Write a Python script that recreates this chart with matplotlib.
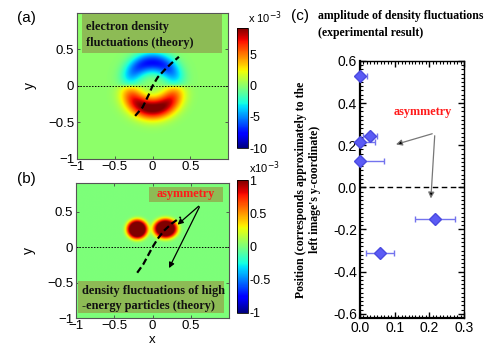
import numpy as np
import matplotlib
matplotlib.use("Agg")
import matplotlib.pyplot as plt
from matplotlib.patches import Rectangle

SANS = "Liberation Sans"
SERIF = "Liberation Serif"

# (a) electron density fluctuation ring (units of 1e-3)
ring_radius = 0.31
ring_width = [0.14, 0.15]          # upper (negative) half, lower (positive) half
ring_amp = [-7.5, 10.0]
cbar_a_lim = [-10, 9.2]
cbar_a_ticks = [-10, -5, 0, 5]

# (b) fast-particle density blobs (units of 1e-3)
blob_x = [-0.2, 0.17]
blob_y = [0.24, 0.25]
blob_wx = [0.14, 0.16]
blob_wy = [0.14, 0.14]
blob_amp = [1.3, 1.3]
cbar_b_lim = [-1, 1]
cbar_b_ticks = [-1, -0.5, 0, 0.5, 1]
cbar_b_labels = ["-1", "-0.5", "0", "0.5", "1"]

# dashed trajectories
path_a_x = [-0.23, -0.13, -0.05, 0.0, 0.07, 0.16, 0.25, 0.35]
path_a_y = [-0.41, -0.29, -0.12, 0.0, 0.12, 0.22, 0.31, 0.40]
path_b_x = [-0.2, -0.12, -0.05, 0.0, 0.07, 0.15, 0.25, 0.37]
path_b_y = [-0.36, -0.24, -0.1, 0.0, 0.12, 0.23, 0.33, 0.42]

# (c) measured amplitude vs position
amp_vals = [0.0, 0.029, 0.0, 0.0, 0.216, 0.057]
amp_err = [0.02, 0.019, 0.044, 0.068, 0.057, 0.04]
pos_vals = [0.53, 0.243, 0.213, 0.125, -0.149, -0.313]
c_xticks = [0.0, 0.1, 0.2, 0.3]
c_yticks = [-0.6, -0.4, -0.2, 0.0, 0.2, 0.4, 0.6]

map_ticks = [-1, -0.5, 0, 0.5]
map_ticklabels = ["\u22121", "\u22120.5", "0", "0.5"]

fig = plt.figure(figsize=(5.0, 3.46), dpi=100)

grid = np.linspace(-1, 1, 401)
X, Y = np.meshgrid(grid, grid)
R = np.hypot(X, Y)
S = Y / np.maximum(R, 1e-9)

# crescent halves: radial gaussian times a broad poloidal envelope
envelope = np.abs(S) ** 0.6
upper = ring_amp[0] * np.exp(-((R - ring_radius) / ring_width[0]) ** 2) * envelope
lower = ring_amp[1] * np.exp(-((R - ring_radius) / ring_width[1]) ** 2) * envelope
field_a = np.where(S > 0, upper, lower)

field_b = np.zeros_like(X)
for bx, by, wx, wy, a in zip(blob_x, blob_y, blob_wx, blob_wy, blob_amp):
    d = np.sqrt(((X - bx) / wx) ** 2 + ((Y - by) / wy) ** 2)
    field_b += a * np.exp(-d ** 4)
field_b = np.clip(field_b, *cbar_b_lim)


def style_map(ax, ylim_top):
    ax.set_xlim(-1, 1)
    ax.set_ylim(-1, ylim_top)
    ax.set_xticks(map_ticks)
    ax.set_xticklabels(map_ticklabels, fontsize=9.5, family=SANS)
    ax.set_yticks(map_ticks)
    ax.set_yticklabels(map_ticklabels, fontsize=9.5, family=SANS)
    ax.tick_params(direction="in", length=2.5, width=0.6, color="#444444",
                   top=True, right=True)
    ax.tick_params(axis="x", pad=1.5)
    ax.tick_params(axis="y", pad=2)
    for sp in ax.spines.values():
        sp.set_color("#555555")
        sp.set_linewidth(0.8)
    ax.axhline(0, color="black", lw=0.7, ls=(0, (1.5, 1.5)))
    ax.set_ylabel("y", fontsize=10, family=SANS, labelpad=8)


def add_cbar(cax, im, ticks, labels):
    cb = fig.colorbar(im, cax=cax, ticks=ticks)
    cb.ax.set_yticklabels(labels, fontsize=9, family=SANS)
    cb.ax.tick_params(length=0, pad=1)
    cb.outline.set_linewidth(0.6)
    return cb


BOX_FS = 8.8

# (a)
ax_a = fig.add_axes([0.154, 0.5405, 0.302, 0.422])
im_a = ax_a.imshow(field_a, extent=[-1, 1, -1, 1], origin="lower", cmap="jet",
                   vmin=cbar_a_lim[0], vmax=cbar_a_lim[1], aspect="auto",
                   interpolation="bilinear")
style_map(ax_a, 1.0)
ax_a.plot(path_a_x, path_a_y, color="black", lw=1.6, ls=(0, (3, 1.5)))
ax_a.add_patch(Rectangle((-0.93, 0.455), 1.85, 0.525, facecolor="#8dbb55",
                         edgecolor="none", zorder=3))
ax_a.text(-0.88, 0.81, "electron density", fontsize=BOX_FS, family=SERIF,
          weight="bold", color="#111111", va="center", zorder=4)
ax_a.text(-0.88, 0.59, "fluctuations (theory)", fontsize=BOX_FS, family=SERIF,
          weight="bold", color="#111111", va="center", zorder=4)

cax_a = fig.add_axes([0.474, 0.572, 0.022, 0.347])
add_cbar(cax_a, im_a, cbar_a_ticks, [str(t) for t in cbar_a_ticks])
fig.text(0.496, 0.935, "x 10$^{-3}$", fontsize=8, family=SANS)

# (b)
ax_b = fig.add_axes([0.152, 0.08, 0.306, 0.391])
im_b = ax_b.imshow(field_b, extent=[-1, 1, -1, 1], origin="lower", cmap="jet",
                   vmin=cbar_b_lim[0], vmax=cbar_b_lim[1], aspect="auto",
                   interpolation="bilinear")
style_map(ax_b, 0.9)
fig.text(0.304, 0.0, "x", fontsize=9.5, family=SANS, ha="center", va="bottom")
ax_b.plot(path_b_x, path_b_y, color="black", lw=1.6, ls=(0, (3, 1.5)))
ax_b.add_patch(Rectangle((-0.05, 0.64), 0.97, 0.21, facecolor="#8dbb55",
                         edgecolor="none", zorder=3))
ax_b.text(0.43, 0.745, "asymmetry", fontsize=BOX_FS, family=SERIF, weight="bold",
          color="#ff1a1a", ha="center", va="center", zorder=4)
ax_b.add_patch(Rectangle((-0.97, -0.93), 1.9, 0.46, facecolor="#8dbb55",
                         edgecolor="none", zorder=3))
ax_b.text(-0.92, -0.61, "density fluctuations of high", fontsize=BOX_FS,
          family=SERIF, weight="bold", color="#111111", va="center", zorder=4)
ax_b.text(-0.92, -0.82, "-energy particles (theory)", fontsize=BOX_FS,
          family=SERIF, weight="bold", color="#111111", va="center", zorder=4)
for tx, ty in [(0.3, 0.29), (0.2, -0.33)]:
    ax_b.annotate("", xy=(tx, ty), xytext=(0.63, 0.6),
                  arrowprops=dict(arrowstyle="-|>", color="black", lw=0.9,
                                  mutation_scale=8), zorder=5)

cax_b = fig.add_axes([0.474, 0.0954, 0.022, 0.384])
add_cbar(cax_b, im_b, cbar_b_ticks, cbar_b_labels)
fig.text(0.498, 0.5, "x10$^{-3}$", fontsize=8, family=SANS)

fig.text(0.034, 0.935, "(a)", fontsize=11, family=SANS)
fig.text(0.034, 0.47, "(b)", fontsize=11, family=SANS)

# (c)
ax_c = fig.add_axes([0.72, 0.081, 0.208, 0.743])
ax_c.errorbar(amp_vals, pos_vals, xerr=amp_err, fmt="none", ecolor="#7373ee",
              elinewidth=1.0, capsize=2, capthick=1.0, zorder=2)
ax_c.plot(amp_vals, pos_vals, ls="none", marker="D", markersize=6.5,
          color="#5b5bf5", markeredgecolor="#4a4ae0", zorder=3, clip_on=False)
ax_c.axhline(0, color="black", lw=1.0, ls=(0, (4, 2.5)))
ax_c.set_xlim(0, 0.3)
ax_c.set_ylim(-0.62, 0.59)
ax_c.set_xticks(c_xticks)
ax_c.set_xticklabels([f"{v:.1f}" for v in c_xticks], fontsize=10, family=SANS)
ax_c.set_yticks(c_yticks)
ax_c.set_yticklabels([f"{v:.1f}" for v in c_yticks], fontsize=10, family=SANS)
ax_c.set_xticks(np.arange(0, 0.301, 0.01), minor=True)
ax_c.set_yticks(np.arange(-0.6, 0.61, 0.02), minor=True)
ax_c.tick_params(which="major", direction="in", length=4, width=1.0,
                 top=True, right=True, pad=2)
ax_c.tick_params(which="minor", direction="in", length=2, width=0.8,
                 top=True, right=True)
for sp in ax_c.spines.values():
    sp.set_linewidth(1.0)
ax_c.spines["left"].set_linewidth(1.6)
ax_c.spines["bottom"].set_linewidth(1.6)
ax_c.set_ylabel("Position (corresponds approximately to the\n"
                "left image's y-coordinate)", fontsize=8.5, family=SERIF,
                weight="bold", labelpad=9, linespacing=1.15)
ax_c.text(0.18, 0.357, "asymmetry", fontsize=BOX_FS, family=SERIF, weight="bold",
          color="#ff1a1a", ha="center", va="center")
for tx, ty in [(0.096, 0.2), (0.204, -0.066)]:
    ax_c.annotate("", xy=(tx, ty), xytext=(0.216, 0.258),
                  arrowprops=dict(arrowstyle="-|>", color="#777777", lw=0.9,
                                  mutation_scale=9, fc="black"))

fig.text(0.582, 0.955, "(c)", fontsize=11, family=SANS, va="center")
fig.text(0.636, 0.955, "amplitude of density fluctuations", fontsize=8.5,
         family=SERIF, weight="bold", va="center")
fig.text(0.636, 0.905, "(experimental result)", fontsize=8.5, family=SERIF,
         weight="bold", va="center")

fig.savefig("out.png", dpi=100)
